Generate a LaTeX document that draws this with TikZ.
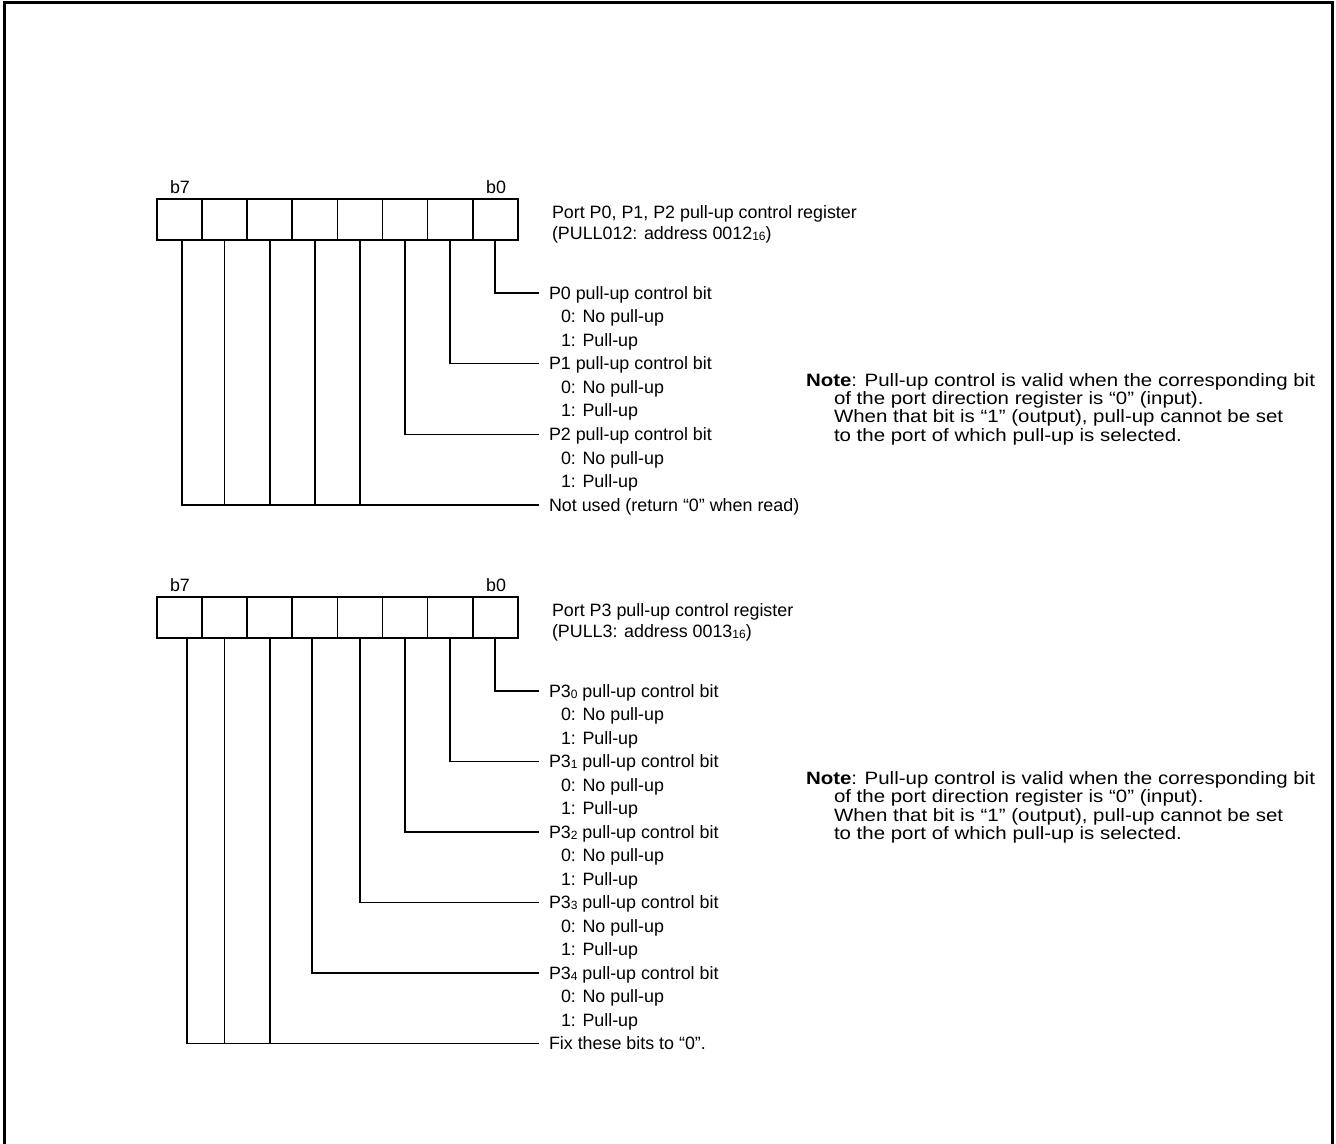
\documentclass[tikz,border=0pt]{standalone}
\usepackage{fontspec}
\setmainfont{Liberation Sans}
\newfontfamily\lblfont{Liberation Sans}
\newfontfamily\notefont[FakeStretch=1.145]{Liberation Sans}
\usetikzlibrary{calc}
\newcommand\sbs[1]{\raisebox{-0.6pt}{\fontsize{9}{10}\selectfont #1}}
\begin{document}
\begin{tikzpicture}[x=0.75pt,y=-0.75pt,
  cell/.style={draw, line width=1.2pt, minimum width=33.8pt, minimum height=30.75pt, inner sep=0pt, outer sep=0pt},
  lbl/.style={anchor=west, inner sep=0pt, outer sep=0pt, font=\lblfont\fontsize{13.4}{16}\selectfont, text height=9.6pt, text depth=0pt},
  note/.style={anchor=west, inner sep=0pt, outer sep=0pt, font=\notefont\fontsize{13.4}{16}\selectfont, text height=9.6pt, text depth=0pt},
  bitlbl/.style={anchor=center, inner sep=0pt, font=\lblfont\fontsize{13.4}{16}\selectfont, text height=9.6pt, text depth=0pt},
  wire/.style={line width=1.2pt},
  frame/.style={line width=2pt}]
\useasboundingbox (0,0) rectangle (1336,1144);
\draw[frame] (4.5,1150) -- (4.5,2.5) -- (1332.5,2.5) -- (1332.5,1150);

% ---------- Register 1 ----------
\foreach \k in {0,...,7}
  \node[cell] (r1c\k) at ({157+45.1*(\k+0.5)},219.5) {};
\node[bitlbl] (r1b7) at (180,187) {b7};
\node[bitlbl] (r1b0) at (496,187) {b0};
\node[lbl] (r1n1) at (552,212) {Port P0, P1, P2 pull-up control register};
\node[lbl] (r1n2) at (552,233) {(PULL012: address 0012\sbs{16})};

\node[lbl] (p0)  at (549,293)   {P0 pull-up control bit};
\node[lbl] (p0a) at (561,316.5) {0: No pull-up};
\node[lbl] (p0b) at (561,340)   {1: Pull-up};
\node[lbl] (p1)  at (549,363.5) {P1 pull-up control bit};
\node[lbl] (p1a) at (561,387)   {0: No pull-up};
\node[lbl] (p1b) at (561,410.5) {1: Pull-up};
\node[lbl] (p2)  at (549,434.5) {P2 pull-up control bit};
\node[lbl] (p2a) at (561,458)   {0: No pull-up};
\node[lbl] (p2b) at (561,481.5) {1: Pull-up};
\node[lbl] (nu)  at (549,505)   {Not used (return “0” when read)};

\draw[wire] (r1c7.south) |- ([xshift=-7.5pt]p0.west);
\draw[wire] (r1c6.south) |- ([xshift=-7.5pt]p1.west);
\draw[wire] (r1c5.south) |- ([xshift=-7.5pt]p2.west);
\draw[wire] ([xshift=1.9pt]r1c0.south) |- ([xshift=-7.5pt]nu.west);
\foreach \k in {1,...,4}
  \draw[wire] (r1c\k.south) -- (r1c\k.south |- nu.west);

\node[note] (n1a) at (806,380)   {\textbf{Note}: Pull-up control is valid when the corresponding bit};
\node[note] (n1b) at (834,398.3) {of the port direction register is “0” (input).};
\node[note] (n1c) at (834,416.6) {When that bit is “1” (output), pull-up cannot be set};
\node[note] (n1d) at (834,435)   {to the port of which pull-up is selected.};

% ---------- Register 2 ----------
\foreach \k in {0,...,7}
  \node[cell] (r2c\k) at ({157+45.1*(\k+0.5)},617.8) {};
\node[bitlbl] (r2b7) at (180,585) {b7};
\node[bitlbl] (r2b0) at (496,585) {b0};
\node[lbl] (r2n1) at (552,610.5) {Port P3 pull-up control register};
\node[lbl] (r2n2) at (552,631.5) {(PULL3: address 0013\sbs{16})};

\node[lbl] (q0)  at (549,691)   {P3\sbs{0} pull-up control bit};
\node[lbl] (q0a) at (561,714.5) {0: No pull-up};
\node[lbl] (q0b) at (561,738)   {1: Pull-up};
\node[lbl] (q1)  at (549,761.5) {P3\sbs{1} pull-up control bit};
\node[lbl] (q1a) at (561,785)   {0: No pull-up};
\node[lbl] (q1b) at (561,808.5) {1: Pull-up};
\node[lbl] (q2)  at (549,832)   {P3\sbs{2} pull-up control bit};
\node[lbl] (q2a) at (561,855.5) {0: No pull-up};
\node[lbl] (q2b) at (561,879)   {1: Pull-up};
\node[lbl] (q3)  at (549,902.5) {P3\sbs{3} pull-up control bit};
\node[lbl] (q3a) at (561,926)   {0: No pull-up};
\node[lbl] (q3b) at (561,949.5) {1: Pull-up};
\node[lbl] (q4)  at (549,973)   {P3\sbs{4} pull-up control bit};
\node[lbl] (q4a) at (561,996.5) {0: No pull-up};
\node[lbl] (q4b) at (561,1020)  {1: Pull-up};
\node[lbl] (fx)  at (549,1043.5) {Fix these bits to “0”.};

\draw[wire] (r2c7.south) |- ([xshift=-7.5pt]q0.west);
\draw[wire] (r2c6.south) |- ([xshift=-7.5pt]q1.west);
\draw[wire] (r2c5.south) |- ([xshift=-7.5pt]q2.west);
\draw[wire] (r2c4.south) |- ([xshift=-7.5pt]q3.west);
\draw[wire] ([xshift=-2.1pt]r2c3.south) |- ([xshift=-7.5pt]q4.west);
\draw[wire] ([xshift=5.6pt]r2c0.south) |- ([xshift=-7.5pt]fx.west);
\foreach \k in {1,2}
  \draw[wire] (r2c\k.south) -- (r2c\k.south |- fx.west);

\node[note] (n2a) at (806,778)   {\textbf{Note}: Pull-up control is valid when the corresponding bit};
\node[note] (n2b) at (834,796.3) {of the port direction register is “0” (input).};
\node[note] (n2c) at (834,814.6) {When that bit is “1” (output), pull-up cannot be set};
\node[note] (n2d) at (834,833)   {to the port of which pull-up is selected.};
\end{tikzpicture}
\end{document}
